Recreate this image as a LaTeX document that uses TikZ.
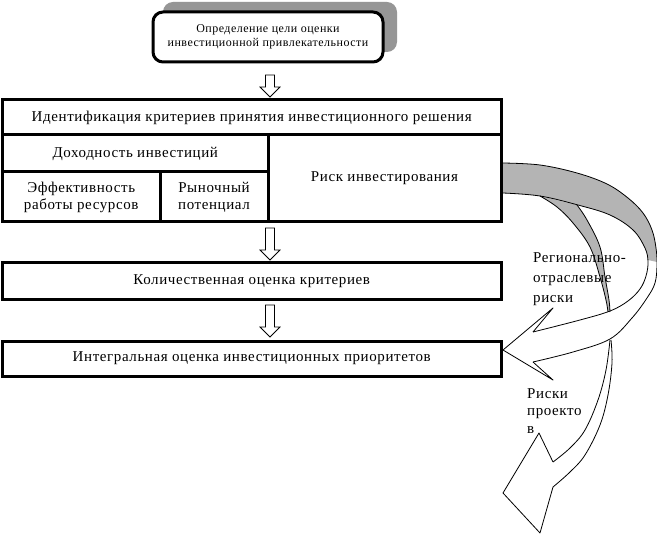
\documentclass[tikz,border=0pt]{standalone}
\usepackage{fontspec}
\setmainfont{Liberation Serif}[LetterSpace=4.0]
\usetikzlibrary{calc}
\definecolor{shadowgray}{RGB}{150,150,150}
\definecolor{bandgray}{RGB}{180,180,180}
\newcommand\mydownarrow[3]{%
  \draw[barr] (#1-4.5,#2) -- (#1+4.5,#2) -- (#1+4.5,#3-10) -- (#1+10,#3-10) -- (#1,#3)
    -- (#1-10,#3-10) -- (#1-4.5,#3-10) -- cycle;}
\begin{document}
\begin{tikzpicture}[x=1pt,y=-1pt,
  box/.style={draw, line width=3pt, inner sep=0pt, align=center,
    font=\fontsize{15}{17}\selectfont},
  lbl/.style={inner sep=0pt, align=left, anchor=north west},
  barr/.style={draw, line width=0.8pt, fill=white},
  thinline/.style={line width=0.8pt, line join=round}]
\useasboundingbox (0,0) rectangle (657,545);
\fill[white] (0,0) rectangle (657,545);

% top box with shadow
\fill[shadowgray, rounded corners=10pt] (163,2) rectangle (397,52);
\node[draw, line width=3pt, rounded corners=10pt, fill=white, minimum width=230pt,
  minimum height=50pt, inner sep=0pt, align=center,
  font=\fontsize{12}{14}\selectfont] (goal) at (268,37)
  {Определение цели оценки\\инвестиционной привлекательности};

% boxes
\node[box, minimum width=498.5pt, minimum height=35pt] (ident) at (251.75,117.5)
  {Идентификация критериев принятия инвестиционного решения};
\node[box, minimum width=265.5pt, minimum height=37pt] (doh) at (135.25,153.5)
  {\raisebox{3pt}{Доходность инвестиций}};
\node[box, minimum width=233pt, minimum height=87pt] (risk) at (384.5,178.5)
  {Риск инвестирования};
\node[box, minimum width=157.5pt, minimum height=50pt] (eff) at (81.25,197)
  {Эффективность\\работы ресурсов};
\node[box, minimum width=108pt, minimum height=50pt] (ryn) at (214,197)
  {Рыночный\\потенциал};
\node[box, minimum width=498.5pt, minimum height=37pt] (kol) at (251.75,281.5)
  {Количественная оценка критериев};
\node[box, minimum width=498.5pt, minimum height=35pt] (integ) at (251.75,359.5)
  {\raisebox{6pt}{Интегральная оценка инвестиционных приоритетов}};

% block arrows
\mydownarrow{270}{75}{97}
\mydownarrow{270}{228}{260}
\mydownarrow{270}{305}{337}

% gray ribbon (back side)
\fill[bandgray]
  plot[smooth, tension=0.6] coordinates {(503,163) (540,165) (577,173) (607,184)
    (628,198) (643,213) (652,230) (656,248) (657,262)}
  -- plot[smooth, tension=0.6] coordinates {(648,260) (645,248) (633,230) (610,215)
    (578,205) (540,196) (503,193)} -- cycle;
\fill[bandgray]
  plot[smooth, tension=0.6] coordinates {(540,196) (557,207) (573,223) (590,247)
    (600,277) (606,300) (608,312)}
  -- plot[smooth, tension=0.6] coordinates {(610,312) (609,300) (605,277) (600,247)
    (587,220) (577,205)} -- cycle;

% outlines
\draw[thinline] plot[smooth, tension=0.6] coordinates {(503,163) (540,165) (577,173)
  (607,184) (628,198) (643,213) (652,230) (656,248) (657,265) (655,283) (647,298)
  (632,318) (610,339) (573,352) (533,362)};
\draw[thinline] plot[smooth, tension=0.6] coordinates {(503,193) (540,196) (578,205)
  (610,215) (633,230) (645,248) (648,262) (646,276) (640,289) (628,301) (610,311)
  (580,320) (533,332)};
\draw[thinline] plot[smooth, tension=0.6] coordinates {(540,196) (557,207) (573,223)
  (590,247) (600,277) (606,300) (608,312)};
\draw[thinline] plot[smooth, tension=0.6] coordinates {(577,205) (587,220) (600,247)
  (605,277) (609,300) (610,312)};
% arrow head to integral box
\draw[thinline] (533,332) -- (553,308) -- (503,350) -- (553,380) -- (533,362);
% second arrow (project risks)
\draw[thinline] plot[smooth, tension=0.6] coordinates {(610,340) (606,370) (598,400)
  (585,430) (570,448) (553,462)};
\draw[thinline] plot[smooth, tension=0.6] coordinates {(611,340) (612,363) (608,395)
  (600,425) (585,455) (570,472) (553,487)};
\draw[thinline] (553,462) -- (539,433) -- (503,493) -- (540,533) -- (553,487);

% labels
\node[lbl, font=\fontsize{15}{20}\selectfont] (reg) at (533,252)
  {Регионально-\\отраслевые\\риски};
\node[lbl, font=\fontsize{15}{17.5}\selectfont] (proj) at (527,388)
  {Риски\\проекто\\в};
\end{tikzpicture}
\end{document}
